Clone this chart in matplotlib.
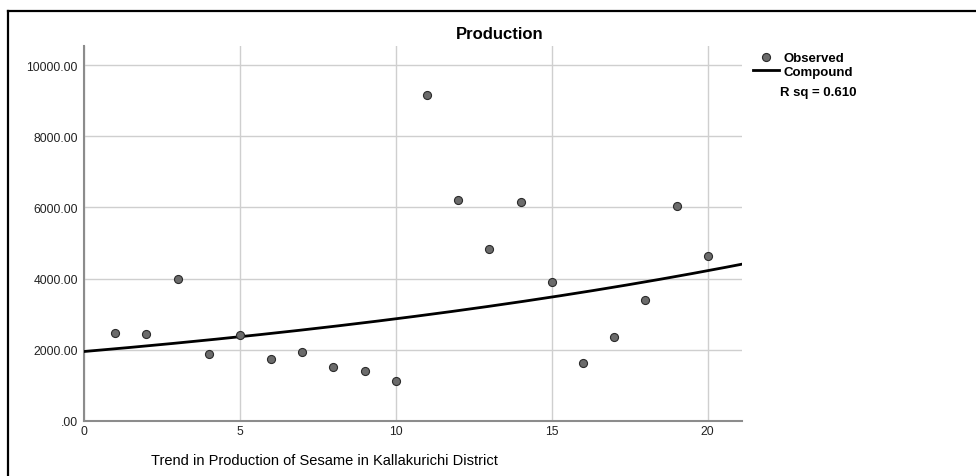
import numpy as np
import matplotlib.pyplot as plt
from matplotlib.lines import Line2D
from matplotlib.ticker import FuncFormatter

years = np.arange(1, 21)
production = [2480, 2430, 3990, 1880, 2420, 1750, 1930, 1510, 1400, 1120,
              9170, 6220, 4840, 6160, 3900, 1630, 2370, 3400, 6030, 4630]
x_ticks = [0, 5, 10, 15, 20]
y_ticks = [0, 2000, 4000, 6000, 8000, 10000]
r_sq_text = "R sq = 0.610"

plt.rcParams['font.family'] = ['Liberation Sans', 'DejaVu Sans']

# compound model y = b0 * b1^t  (log-linear fit)
slope, intercept = np.polyfit(years, np.log(production), 1)
b0 = np.exp(intercept)
b1 = np.exp(slope)
t = np.linspace(0, 21.1, 200)
fit = b0 * b1 ** t

fig = plt.figure(figsize=(9.76, 4.77), dpi=100)
ax = fig.add_axes([84/976, 55/477, 658/976, 375/477])

ax.grid(True, color='#cfcfcf', linewidth=1.0)
ax.set_axisbelow(True)
ax.plot(t, fit, color='black', linewidth=2.0, zorder=3)
ax.plot(years, production, linestyle='none', marker='o', markersize=5.8,
        markerfacecolor='#6b6b6b', markeredgecolor='#2b2b2b', markeredgewidth=0.8, zorder=4)

ax.set_xlim(0, 21.1)
ax.set_ylim(0, 10534)
ax.set_xticks(x_ticks)
ax.set_yticks(y_ticks)
ax.yaxis.set_major_formatter(FuncFormatter(lambda v, p: ".00" if v == 0 else "%.2f" % v))
ax.tick_params(length=0, labelsize=8.7, colors='#222222')
ax.tick_params(axis='y', pad=4.5)
ax.tick_params(axis='x', pad=3)
for s in ['top', 'right']:
    ax.spines[s].set_visible(False)
for s in ['left', 'bottom']:
    ax.spines[s].set_color('#8c8c8c')
    ax.spines[s].set_linewidth(1.5)

fig.text(500/976, (477-35)/477, "Production", ha='center', va='center',
         fontsize=12, fontweight='bold')
fig.text(324/976, (477-461)/477, "Trend in Production of Sesame in Kallakurichi District",
         ha='center', va='center', fontsize=10.5)

handles = [Line2D([], [], linestyle='none', marker='o', markersize=5.8,
                  markerfacecolor='#6b6b6b', markeredgecolor='#2b2b2b', markeredgewidth=0.8),
           Line2D([], [], color='black', linewidth=2.0)]
fig.legend(handles, ["Observed", "Compound"], loc='upper left',
           bbox_to_anchor=(753/976, (477-53)/477), frameon=False,
           prop={'weight': 'bold', 'size': 9.5}, handlelength=2.0,
           handletextpad=0.3, labelspacing=0.1, borderpad=0, borderaxespad=0)
fig.text(780/976, (477-93)/477, r_sq_text, ha='left', va='center',
         fontsize=9.5, fontweight='bold')

# outer frame (top and left only)
fig.add_artist(Line2D([8/976, 1], [(477-12)/477, (477-12)/477], color='black', linewidth=1.6))
fig.add_artist(Line2D([8/976, 8/976], [0, (477-12)/477], color='black', linewidth=1.6))

fig.savefig("out.png", dpi=100)
